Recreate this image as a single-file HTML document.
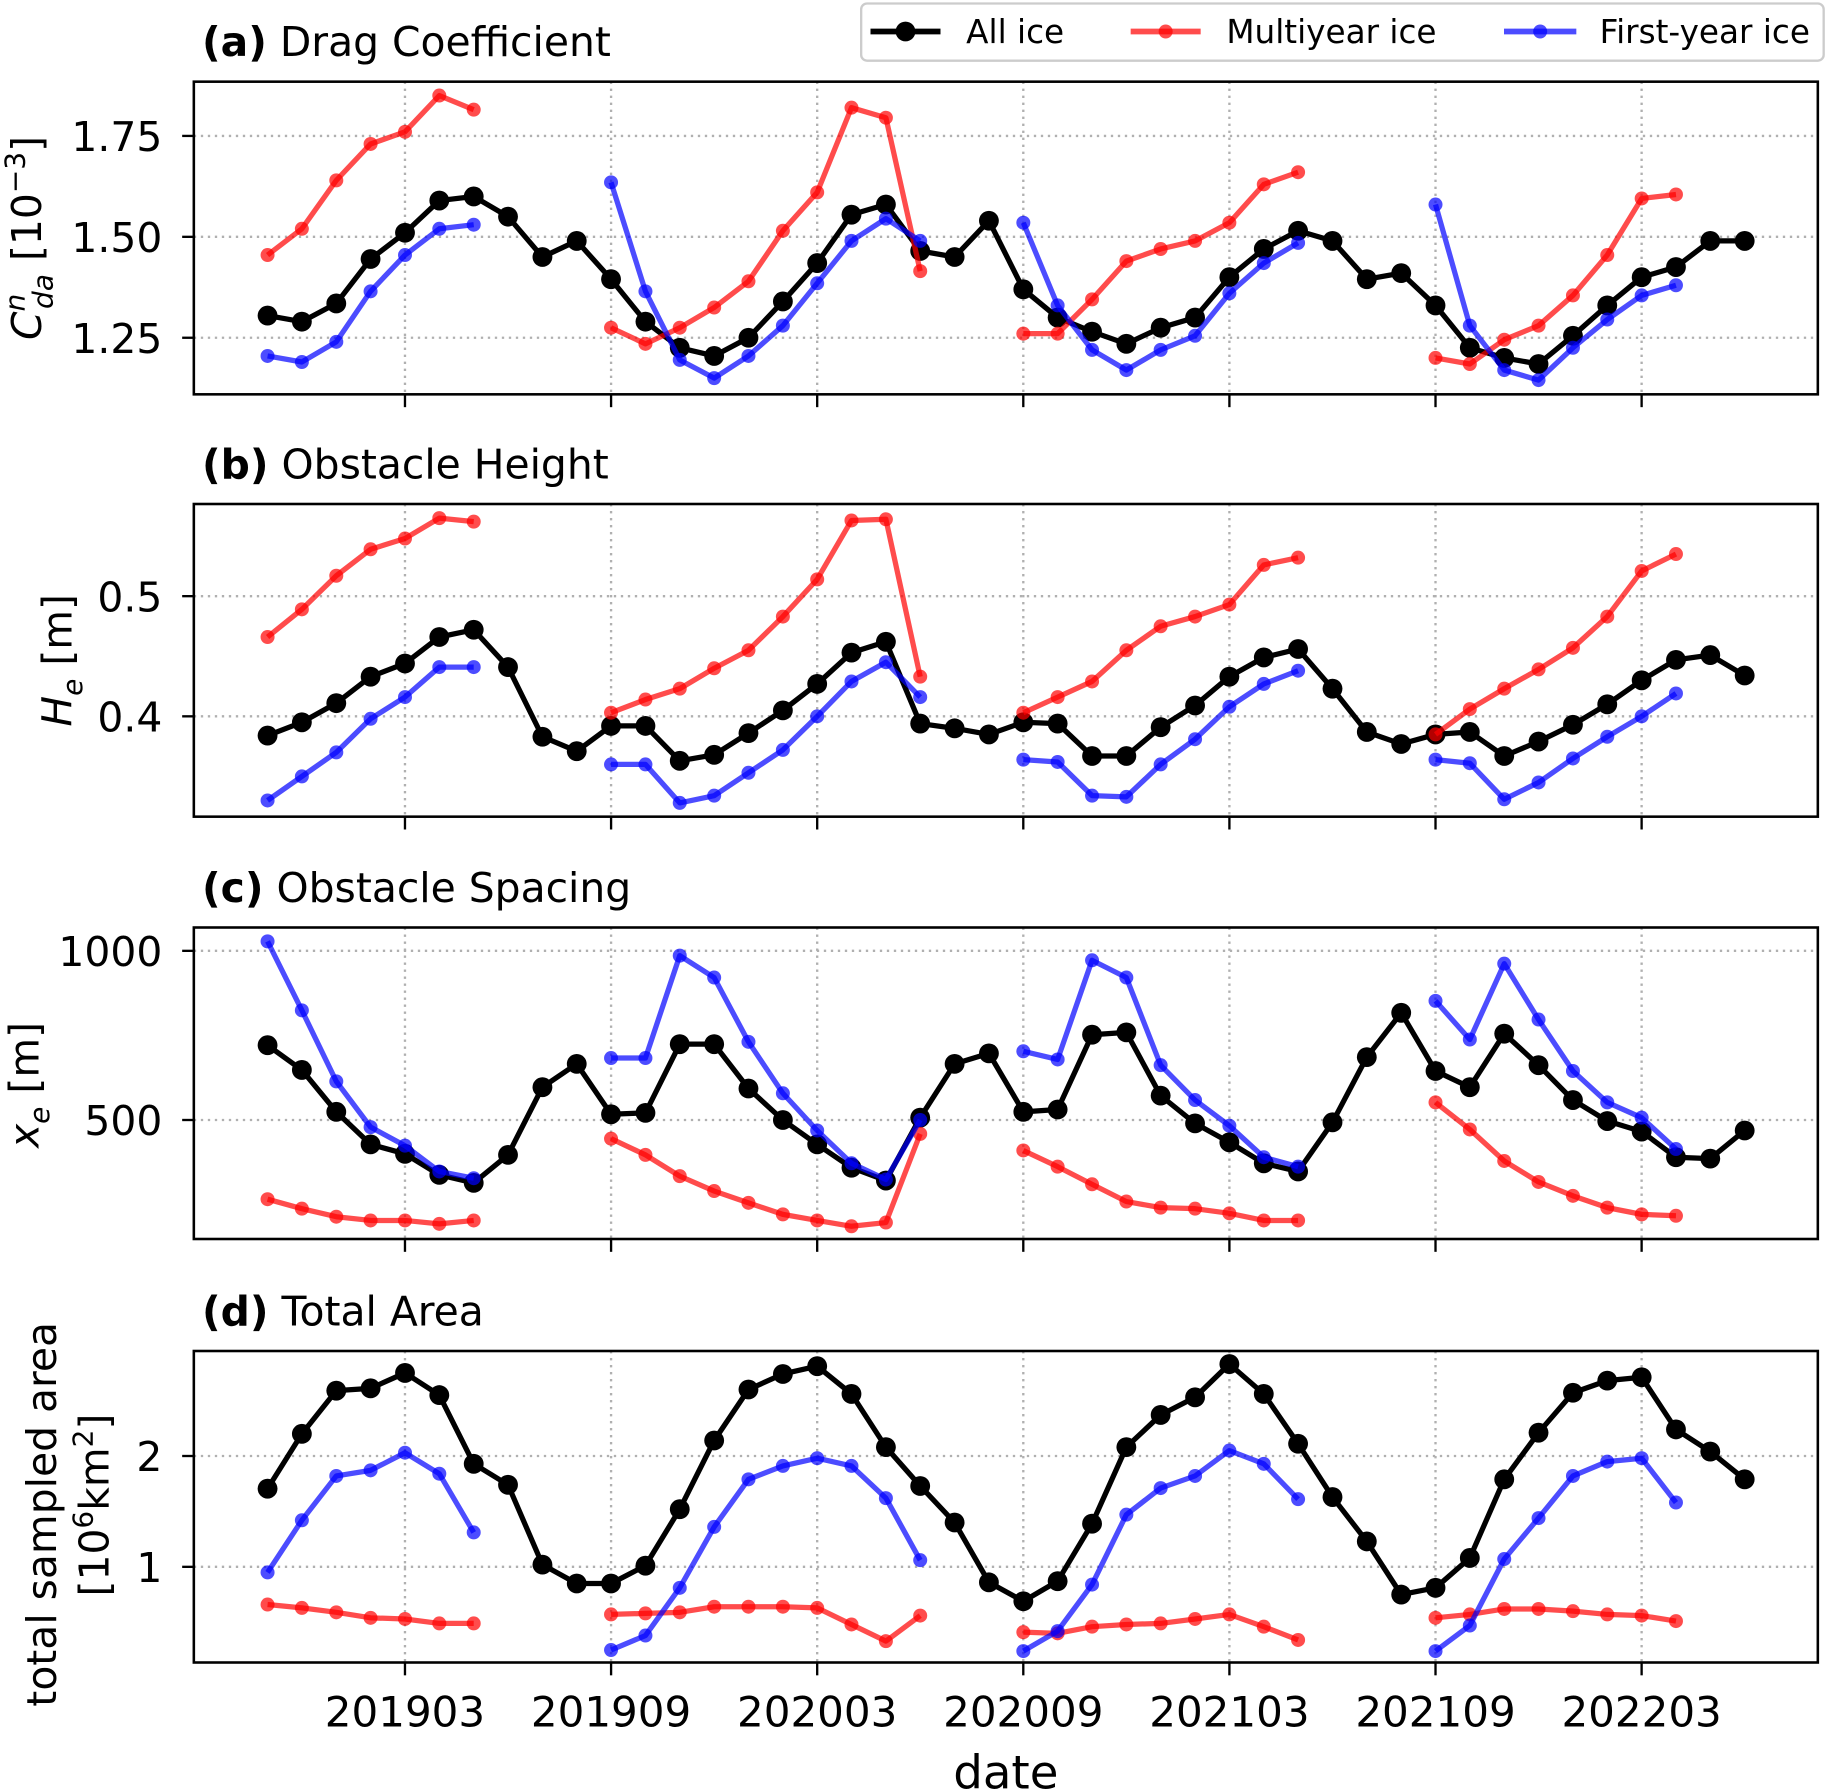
<!DOCTYPE html>
<html><head><meta charset="utf-8">
<style>
html,body{margin:0;padding:0;background:#fff;}
svg{display:block;font-family:"DejaVu Sans","Liberation Sans",sans-serif;}
</style></head>
<body>
<svg id="chart" width="1832" height="1792" viewBox="0 0 1568 1536" xmlns="http://www.w3.org/2000/svg">
<rect x="0" y="0" width="1568" height="1536" fill="#fff"/>
<g id="legend">
  <rect x="737" y="3" width="825" height="49" rx="5" fill="#fff" stroke="#ccc" stroke-width="2"/>
  <g>
    <line x1="745" y1="27" x2="805" y2="27" stroke="#000" stroke-width="5"/>
    <circle cx="775" cy="27" r="8.5" fill="#000"/>
    <text x="827" y="37" font-size="28">All ice</text>
  </g>
  <g>
    <line x1="968" y1="27" x2="1028" y2="27" stroke="#ff0000" stroke-opacity="0.7" stroke-width="5"/>
    <circle cx="998" cy="27" r="6" fill="#ff0000" fill-opacity="0.7"/>
    <text x="1050" y="37" font-size="28">Multiyear ice</text>
  </g>
  <g>
    <line x1="1288" y1="27" x2="1350" y2="27" stroke="#0000ff" stroke-opacity="0.7" stroke-width="5"/>
    <circle cx="1319" cy="27" r="6" fill="#0000ff" fill-opacity="0.7"/>
    <text x="1370" y="37" font-size="28">First-year ice</text>
  </g>
</g>
<text x="861" y="1533" font-size="40" text-anchor="middle">date</text>
</svg>
<script>
// months index 0 = 2018-11 ... 43 = 2022-06
const xTickMonths = [4, 10, 16, 22, 28, 34, 40];
const xTickLabels = ["201903", "201909", "202003", "202009", "202103", "202109", "202203"];
const N = null;

const cdAll = [1.305,1.29,1.335,1.445,1.51,1.59,1.60,1.55,1.45,1.49,1.395,1.29,1.225,1.205,1.25,1.34,1.435,1.555,1.58,1.465,1.45,1.54,1.37,1.30,1.265,1.235,1.275,1.30,1.40,1.47,1.515,1.49,1.395,1.41,1.33,1.225,1.20,1.185,1.255,1.33,1.40,1.425,1.49,1.49];
const cdMyi = [1.455,1.52,1.64,1.73,1.76,1.85,1.815,N,N,N,1.275,1.235,1.275,1.325,1.39,1.515,1.61,1.82,1.795,1.415,N,N,1.26,1.26,1.345,1.44,1.47,1.49,1.535,1.63,1.66,N,N,N,1.20,1.185,1.245,1.28,1.355,1.455,1.595,1.605,N,N];
const cdFyi = [1.205,1.19,1.24,1.365,1.455,1.52,1.53,N,N,N,1.635,1.365,1.195,1.15,1.205,1.28,1.385,1.49,1.545,1.49,N,N,1.535,1.33,1.22,1.17,1.22,1.255,1.36,1.435,1.485,N,N,N,1.58,1.28,1.17,1.145,1.225,1.295,1.355,1.38,N,N];

const heAll = [.384,.395,.411,.433,.444,.466,.472,.441,.383,.371,.392,.392,.363,.368,.386,.405,.427,.453,.462,.394,.39,.385,.395,.394,.367,.367,.391,.409,.433,.449,.456,.423,.387,.377,.385,.387,.367,.379,.393,.410,.430,.447,.451,.434];
const heMyi = [.466,.489,.517,.539,.548,.565,.562,N,N,N,.403,.414,.423,.440,.455,.483,.514,.563,.564,.433,N,N,.403,.416,.429,.455,.475,.483,.493,.526,.532,N,N,N,.385,.406,.423,.439,.457,.483,.521,.535,N,N];
const heFyi = [.330,.350,.370,.398,.416,.441,.441,N,N,N,.360,.360,.328,.334,.353,.372,.400,.429,.445,.416,N,N,.364,.362,.334,.333,.360,.381,.408,.427,.438,N,N,N,.364,.361,.331,.345,.365,.383,.400,.419,N,N];

const xeAll = [721,648,524,428,400,338,314,397,597,666,517,521,724,724,593,500,428,359,321,507,666,697,524,531,752,759,572,490,434,372,348,493,686,817,645,597,755,662,559,497,466,390,386,469];
const xeMyi = [266,238,214,203,203,193,203,N,N,N,445,397,334,290,255,221,203,186,197,459,N,N,410,362,310,259,241,238,224,203,203,N,N,N,552,472,379,317,276,241,221,217,N,N];
const xeFyi = [1028,824,614,479,424,348,328,N,N,N,683,683,986,921,731,579,469,372,324,500,N,N,703,679,972,921,662,559,483,390,362,N,N,N,852,738,962,797,645,552,507,414,N,N];

const arAll = [1.705,2.20,2.59,2.61,2.75,2.55,1.93,1.74,1.02,.85,.85,1.01,1.52,2.14,2.60,2.74,2.81,2.56,2.08,1.73,1.40,.86,.69,.87,1.39,2.08,2.37,2.53,2.83,2.56,2.11,1.63,1.23,.75,.81,1.08,1.79,2.21,2.57,2.68,2.71,2.24,2.04,1.79];
const arMyi = [.66,.63,.59,.54,.53,.49,.49,N,N,N,.57,.58,.59,.64,.64,.64,.63,.48,.33,.56,N,N,.41,.40,.46,.48,.49,.53,.57,.46,.34,N,N,N,.54,.57,.62,.62,.60,.57,.56,.51,N,N];
const arFyi = [.95,1.42,1.82,1.87,2.03,1.84,1.31,N,N,N,.25,.38,.81,1.36,1.79,1.91,1.98,1.91,1.62,1.06,N,N,.24,.42,.84,1.47,1.71,1.82,2.05,1.93,1.61,N,N,N,.24,.47,1.07,1.44,1.82,1.95,1.98,1.58,N,N];

const cdTicks = [1.25, 1.50, 1.75];
const cdTickLabels = ["1.25", "1.50", "1.75"];
const heTicks = [0.4, 0.5];
const heTickLabels = ["0.4", "0.5"];
const xeTicks = [500, 1000];
const xeTickLabels = ["500", "1000"];
const arTicks = [1, 2];
const arTickLabels = ["1", "2"];

const svg = document.getElementById('chart');
const NS = 'http://www.w3.org/2000/svg';
function mk(tag, attrs, parent) {
  const e = document.createElementNS(NS, tag);
  for (const k in attrs) e.setAttribute(k, attrs[k]);
  (parent || svg).appendChild(e);
  return e;
}
const X0 = 165, X1 = 1557;
function xScale(m) { return 228.2 + m * 29.444; }

const panels = [
  {key:'a', title:'Drag Coefficient', top:70, bot:338, v0:1.5, y0:203, k:346, ticks:cdTicks, tl:cdTickLabels, all:cdAll, myi:cdMyi, fyi:cdFyi},
  {key:'b', title:'Obstacle Height', top:432, bot:700, v0:0.4, y0:614, k:1030, ticks:heTicks, tl:heTickLabels, all:heAll, myi:heMyi, fyi:heFyi},
  {key:'c', title:'Obstacle Spacing', top:795, bot:1062, v0:500, y0:960, k:0.29, ticks:xeTicks, tl:xeTickLabels, all:xeAll, myi:xeMyi, fyi:xeFyi},
  {key:'d', title:'Total Area', top:1158, bot:1425, v0:1, y0:1343, k:95, ticks:arTicks, tl:arTickLabels, all:arAll, myi:arMyi, fyi:arFyi}
];

function drawSeries(g, vals, yS, color, op, lw, r, name) {
  const sg = mk('g', {}, g);
  
  
  let seg = [];
  const segs = [];
  vals.forEach((v, i) => {
    if (v === null) { if (seg.length) segs.push(seg); seg = []; }
    else seg.push([xScale(i), yS(v)]);
  });
  if (seg.length) segs.push(seg);
  segs.forEach(s => {
    if (s.length > 1) {
      const pl = mk('polyline', {points: s.map(p => p[0].toFixed(1) + ',' + p[1].toFixed(1)).join(' '), fill:'none', stroke:color, 'stroke-opacity':op, 'stroke-width':lw, 'stroke-linejoin':'round'}, sg);
      
      
    }
    s.forEach(p => {
      const c = mk('circle', {cx:p[0].toFixed(1), cy:p[1].toFixed(1), r:r, fill:color, 'fill-opacity':op}, sg);
      
      
    });
  });
}

panels.forEach(P => {
  const g = mk('g', {});
  
  
  const yS = v => P.y0 - (v - P.v0) * P.k;
  P.ticks.forEach(t => {
    const y = yS(t);
    const gl = mk('line', {x1:X0, x2:X1, y1:y, y2:y, stroke:'#b0b0b0', 'stroke-width':2, 'stroke-dasharray':'2,4'}, g);
    
    
  });
  xTickMonths.forEach(m => {
    const x = xScale(m);
    const gl = mk('line', {x1:x, x2:x, y1:P.top, y2:P.bot, stroke:'#b0b0b0', 'stroke-width':2, 'stroke-dasharray':'2,4'}, g);
    
    
    const tk = mk('line', {x1:x, x2:x, y1:P.bot, y2:P.bot + 11, stroke:'#000', 'stroke-width':2}, g);
    
    
  });
  drawSeries(g, P.all, yS, '#000', 1, 4.5, 8.5, 'series-all-ice-' + P.key);
  drawSeries(g, P.myi, yS, '#ff0000', 0.7, 4.5, 6, 'series-multiyear-ice-' + P.key);
  drawSeries(g, P.fyi, yS, '#0000ff', 0.7, 4.5, 6, 'series-first-year-ice-' + P.key);
  const fr = mk('rect', {x:X0, y:P.top, width:X1 - X0, height:P.bot - P.top, fill:'none', stroke:'#000', 'stroke-width':2.2}, g);
  
  
  P.ticks.forEach((t, i) => {
    const y = yS(t);
    const tk = mk('line', {x1:X0 - 10, x2:X0, y1:y, y2:y, stroke:'#000', 'stroke-width':2}, g);
    
    
    const tx = mk('text', {x:X0 - 27, y:y + 13, 'font-size':35, 'text-anchor':'end'}, g);
    tx.textContent = P.tl[i];
    
    
  });
  const tt = mk('text', {x:172, y:P.top - 22, 'font-size':35}, g);
  tt.innerHTML = '<tspan font-weight="bold">(' + P.key + ')</tspan> ' + P.title;
  
  
});

xTickMonths.forEach((m, i) => {
  const t = mk('text', {x:xScale(m), y:1480, 'font-size':36, 'text-anchor':'middle'});
  t.textContent = xTickLabels[i];
  
  
});

function ylab(html, x, y, name, size) {
  const t = mk('text', {x:0, y:0, 'font-size':size || 35, 'text-anchor':'middle', transform:'translate(' + x + ',' + y + ') rotate(-90)'});
  t.innerHTML = html;
  
  
}
ylab('<tspan font-style="italic">C</tspan><tspan font-size="24" font-style="italic" dy="-14">n</tspan><tspan font-size="24" font-style="italic" dx="-13" dy="24">da</tspan><tspan dy="-10"> [10</tspan><tspan font-size="24" dy="-14">−3</tspan><tspan dy="14">]</tspan>', 34, 204, 'y-axis-title-drag');
ylab('<tspan font-style="italic">H</tspan><tspan font-size="24" font-style="italic" dy="9">e</tspan><tspan dy="-9"> [m]</tspan>', 60, 566, 'y-axis-title-height');
ylab('<tspan font-style="italic">x</tspan><tspan font-size="24" font-style="italic" dy="9">e</tspan><tspan dy="-9"> [m]</tspan>', 32, 930, 'y-axis-title-spacing');
ylab('total sampled area', 47, 1298, 'y-axis-title-area');
ylab('[10<tspan font-size="24" dy="-14">6</tspan><tspan dy="14">km</tspan><tspan font-size="24" dy="-14">2</tspan><tspan dy="14">]</tspan>', 92, 1290, 'y-axis-title-area-units');
</script>
</body></html>
